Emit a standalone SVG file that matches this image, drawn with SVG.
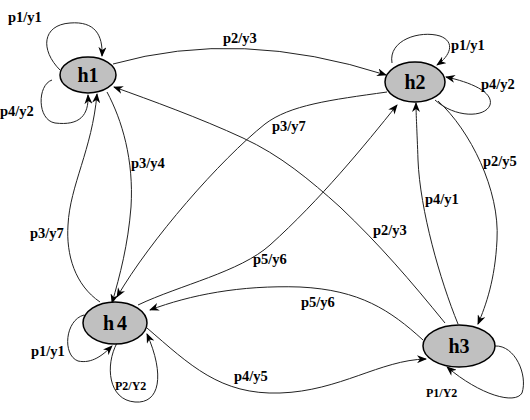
<svg xmlns="http://www.w3.org/2000/svg" width="530" height="420" viewBox="0 0 530 420">
<style>
.n{fill:#c0c0c0;stroke:#000;stroke-width:1.5}
.nt{font-family:"Liberation Serif",serif;font-weight:bold;font-size:20px;fill:#000;text-anchor:middle}
.e{fill:none;stroke:#222;stroke-width:1;marker-end:url(#a)}
.l{font-family:"Liberation Serif",serif;font-weight:bold;font-size:14.5px;fill:#000}
.s{font-family:"Liberation Serif",serif;font-weight:bold;font-size:12px;fill:#000}
</style>
<defs>
<marker id="a" viewBox="0 0 10 8" refX="9" refY="4" markerWidth="10" markerHeight="8" markerUnits="userSpaceOnUse" orient="auto">
<path d="M0,0 L10,4 L0,8 L3,4 z" fill="#000"/>
</marker>
</defs>
<g id="connectors">
<path class="e" d="M60,70 C40,50 42,25 70,23 C95,21 103,35 102,56"/>
<path class="e" d="M52,80 C37,85 37,120 55,123 C80,126 89,115 88,95"/>
<path class="e" d="M113,64 Q240,28 386,75"/>
<path class="e" d="M445,323 C410,280 380,245 340,207 C310,180 280,155 243,138 C200,118 150,100 114,87"/>
<path class="e" d="M100,302 C75,285 66,255 68,225 C70,185 92,150 97,94"/>
<path class="e" d="M107,92 C122,120 134,160 131,207 C128,245 120,275 112,303"/>
<path class="e" d="M392,63 C388,40 420,30 440,36 C456,42 450,56 437,65"/>
<path class="e" d="M435,100 C455,118 485,118 490,105 C494,92 470,82 446,77"/>
<path class="e" d="M438,101 C470,130 500,190 497,240 C495,280 486,305 478,324"/>
<path class="e" d="M458,324 C440,280 420,210 418,160 C417,130 416,115 416,103"/>
<path class="e" d="M147,328 C190,365 220,395 280,393 C340,391 380,360 426,359"/>
<path class="e" d="M423,340 C390,310 360,290 300,287 C240,285 190,295 150,310"/>
<path class="e" d="M138,305 C180,285 240,272 270,245 C320,200 365,145 397,105"/>
<path class="e" d="M387,92 C330,100 290,105 265,124 C220,160 150,240 117,297"/>
<path class="e" d="M84,315 C65,320 62,355 78,361 C92,364 103,355 112,346"/>
<path class="e" d="M117,343 C105,365 108,400 135,402 C160,404 165,375 147,334"/>
<path class="e" d="M495,346 C515,345 528,375 522,393 C515,405 480,395 447,367"/>
</g>
<g id="h1"><ellipse class="n" cx="88" cy="75" rx="28" ry="18"/><text class="nt" x="88" y="82">h1</text></g>
<g id="h2"><ellipse class="n" cx="415" cy="82" rx="30" ry="20"/><text class="nt" x="415" y="89">h2</text></g>
<g id="h4"><ellipse class="n" cx="115" cy="323" rx="32" ry="21"/><text class="nt" x="115" y="330">h<tspan dx="3">4</tspan></text></g>
<g id="h3"><ellipse class="n" cx="459" cy="346" rx="36" ry="21"/><text class="nt" x="459" y="353">h3</text></g>
<g id="labels">
<text class="l" x="8" y="22">p1/y1</text>
<text class="l" x="0" y="116">p4/y2</text>
<text class="l" x="223" y="43">p2/y3</text>
<text class="l" x="451" y="50">p1/y1</text>
<text class="l" x="481" y="89">p4/y2</text>
<text class="l" x="272" y="131">p3/y7</text>
<text class="l" x="131" y="168">p3/y4</text>
<text class="l" x="30" y="238">p3/y7</text>
<text class="l" x="483" y="166">p2/y5</text>
<text class="l" x="425" y="204">p4/y1</text>
<text class="l" x="373" y="235">p2/y3</text>
<text class="l" x="253" y="264">p5/y6</text>
<text class="l" x="301" y="307">p5/y6</text>
<text class="l" x="234" y="381">p4/y5</text>
<text class="l" x="31" y="356">p1/y1</text>
<text class="s" x="115" y="390">P2/Y2</text>
<text class="s" x="426" y="397">P1/Y2</text>
</g>
</svg>
